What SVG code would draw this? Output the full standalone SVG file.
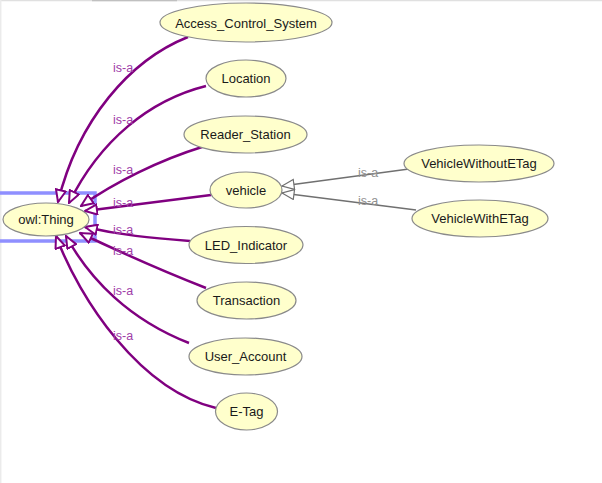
<svg xmlns="http://www.w3.org/2000/svg" width="602" height="483" viewBox="0 0 602 483">
<style>
.node ellipse{fill:#ffffcc;stroke:#8a8a8a;stroke-width:1.2}
.node text{font-family:"Liberation Sans",Arial,sans-serif;font-size:13px;fill:#1a1a1a;text-anchor:middle;dominant-baseline:central}
.e{fill:none;stroke:#800080;stroke-width:2.5;marker-end:url(#ap)}
.g{fill:none;stroke:#707070;stroke-width:1.5;marker-end:url(#ag)}
.l{font-family:"Liberation Sans",Arial,sans-serif;font-size:12.5px;fill:#a040a8}
.lg{font-family:"Liberation Sans",Arial,sans-serif;font-size:12.5px;fill:#909090}
</style>
<defs>
<marker id="ap" viewBox="0 0 14 12" refX="13" refY="6" markerWidth="14" markerHeight="12" markerUnits="userSpaceOnUse" orient="auto">
<path d="M1,1 L13,6 L1,11 Z" fill="#ffffff" stroke="#800080" stroke-width="2"/>
</marker>
<marker id="ag" viewBox="0 0 14 12" refX="13" refY="6" markerWidth="14" markerHeight="12" markerUnits="userSpaceOnUse" orient="auto">
<path d="M1,1 L13,6 L1,11 Z" fill="#ffffff" stroke="#707070" stroke-width="1.2"/>
</marker>
</defs>
<rect x="0" y="0" width="602" height="483" fill="#ffffff"/>
<line x1="0" y1="0.5" x2="602" y2="0.5" stroke="#e0e0e0" stroke-width="1.5"/>
<line x1="92" y1="0.5" x2="177" y2="0.5" stroke="#c0c0c0" stroke-width="1.5"/>
<line x1="0.7" y1="0" x2="0.7" y2="483" stroke="#ebebeb" stroke-width="1.5"/>
<rect x="-5" y="193" width="100" height="48" fill="none" stroke="#8f8fff" stroke-width="3.5"/>
<g id="connectors">
<path class="e" d="M188,37 C130,60 78,120 58,202"/>
<path class="e" d="M206,86 C150,100 100,140 69,203"/>
<path class="e" d="M202,147 C160,160 115,182 81,206"/>
<path class="e" d="M211,195 L85,211"/>
<path class="e" d="M190,241 C150,238 120,235 85,227"/>
<path class="e" d="M206,288 C160,270 120,252 80,233"/>
<path class="e" d="M189,343 C130,320 90,280 66,236"/>
<path class="e" d="M216,408 C140,390 80,300 56,236"/>
<path class="g" d="M409,169 L282,186"/>
<path class="g" d="M416,210 L282,193"/>
<text class="l" x="113" y="72">is-a</text>
<text class="l" x="113" y="124">is-a</text>
<text class="l" x="113" y="174">is-a</text>
<text class="l" x="113" y="207">is-a</text>
<text class="l" x="113" y="234">is-a</text>
<text class="l" x="113" y="255">is-a</text>
<text class="l" x="113" y="295">is-a</text>
<text class="l" x="113" y="340">is-a</text>
<text class="lg" x="358" y="177">is-a</text>
<text class="lg" x="358" y="205">is-a</text>
</g>
<g id="owl_Thing" class="node"><ellipse cx="46" cy="219.5" rx="43" ry="16.5"/><text x="46" y="219">owl:Thing</text></g>
<g id="Access_Control_System" class="node"><ellipse cx="246" cy="22.5" rx="86" ry="19.5"/><text x="246" y="23">Access_Control_System</text></g>
<g id="Location" class="node"><ellipse cx="246" cy="78.5" rx="40" ry="18.5"/><text x="246" y="78.5">Location</text></g>
<g id="Reader_Station" class="node"><ellipse cx="245.5" cy="134.5" rx="61.5" ry="18.5"/><text x="245.5" y="134.5">Reader_Station</text></g>
<g id="vehicle" class="node"><ellipse cx="246" cy="190" rx="36" ry="18"/><text x="246" y="190">vehicle</text></g>
<g id="VehicleWithoutETag" class="node"><ellipse cx="479" cy="163.5" rx="75" ry="18.5"/><text x="479" y="163.5">VehicleWithoutETag</text></g>
<g id="VehicleWithETag" class="node"><ellipse cx="480" cy="218.5" rx="68" ry="18.5"/><text x="480" y="218.5">VehicleWithETag</text></g>
<g id="LED_Indicator" class="node"><ellipse cx="246" cy="245" rx="57" ry="18.5"/><text x="246" y="245">LED_Indicator</text></g>
<g id="Transaction" class="node"><ellipse cx="246.5" cy="300.5" rx="49.5" ry="18.5"/><text x="246.5" y="300.5">Transaction</text></g>
<g id="User_Account" class="node"><ellipse cx="245.5" cy="356.5" rx="56.5" ry="18.5"/><text x="245.5" y="356.5">User_Account</text></g>
<g id="E-Tag" class="node"><ellipse cx="246.5" cy="411.5" rx="31" ry="18.5"/><text x="246.5" y="411.5">E-Tag</text></g>
</svg>
